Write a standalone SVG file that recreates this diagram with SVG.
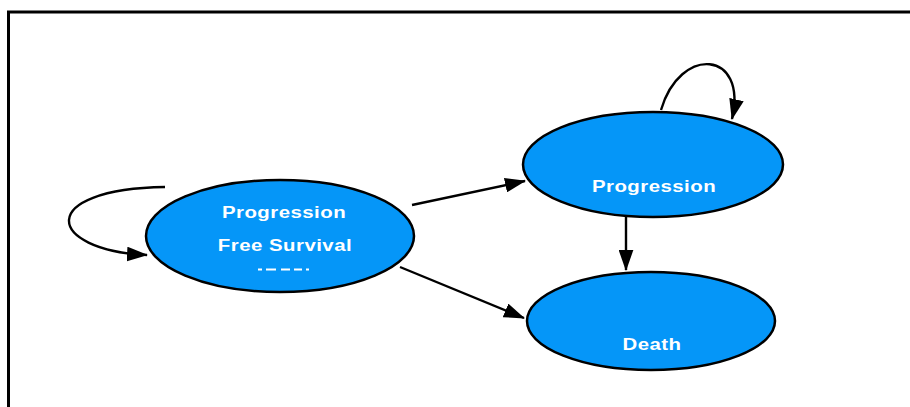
<svg xmlns="http://www.w3.org/2000/svg" width="910" height="407" viewBox="0 0 910 407">
<defs>
<marker id="arr" viewBox="0 0 20 14" refX="19" refY="7" markerWidth="21" markerHeight="15" markerUnits="userSpaceOnUse" orient="auto">
<path d="M0,0 L20,7 L0,14 Z" fill="#000"/>
</marker>
<style>
.node ellipse{fill:#0596F8;stroke:#000;stroke-width:2.5}
.node text{fill:#fff;font-family:"Liberation Sans",Arial,sans-serif;font-weight:bold;font-size:17px;letter-spacing:0.4px;text-anchor:middle}
.edge{fill:none;stroke:#000;stroke-width:2.4;marker-end:url(#arr)}
</style>
</defs>
<rect x="0" y="0" width="910" height="407" fill="#fff"/>
<rect x="8.5" y="12" width="920" height="420" fill="none" stroke="#000" stroke-width="3"/>
<g id="pfs" class="node">
<ellipse cx="280" cy="236" rx="134" ry="56"/>
<text transform="translate(284,218) scale(1.2,1)">Progression</text>
<text transform="translate(285,251) scale(1.2,1)">Free Survival</text>
<g fill="#fff">
<rect x="258" y="268.5" width="4" height="2"/>
<rect x="266" y="268.5" width="10" height="2"/>
<rect x="281" y="268.5" width="9" height="2"/>
<rect x="294" y="268.5" width="8" height="2"/>
<rect x="306" y="268.5" width="3" height="2"/>
</g>
</g>
<g id="progression" class="node">
<ellipse cx="653" cy="164.5" rx="130" ry="52.5"/>
<text transform="translate(654,192) scale(1.2,1)">Progression</text>
</g>
<g id="death" class="node">
<ellipse cx="651" cy="321" rx="124" ry="49"/>
<text transform="translate(652,349.5) scale(1.2,1)">Death</text>
</g>
<g id="connectors">
<path class="edge" d="M165,187 C35,189 45,250 147,255"/>
<path class="edge" d="M661,110 C680,45 748,50 732,119"/>
<path class="edge" d="M412,205 L525,181"/>
<path class="edge" d="M400,267 L524,318"/>
<path class="edge" d="M626,217 L626,270"/>
</g>
</svg>
